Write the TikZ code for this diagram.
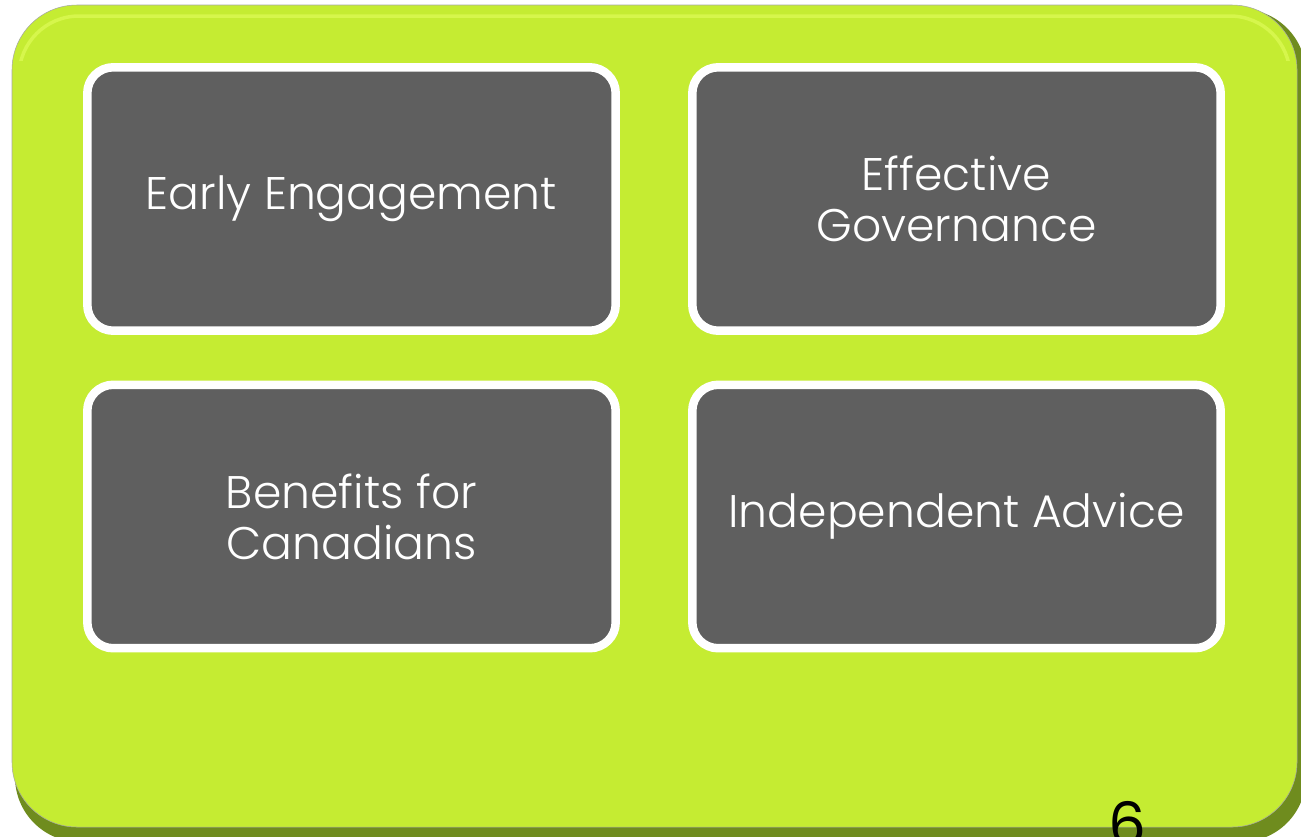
\documentclass[tikz,border=0pt]{standalone}
\usepackage{fontspec}
\setmainfont{Poppins}[UprightFont=* Light]
\newfontfamily\pagenumfont{Poppins}
\definecolor{panelgreen}{HTML}{C5EC32}
\definecolor{panelshade}{HTML}{6F8C1E}
\definecolor{panellight}{HTML}{D6F64C}
\definecolor{boxgray}{HTML}{5F5F5F}
\tikzset{
  pillar/.style={draw=white, fill=boxgray, line width=0.17cm, rounded corners=0.52cm,
    minimum width=10.57cm, minimum height=5.27cm, inner sep=0pt,
    text=white, align=center, font=\fontsize{26}{29}\selectfont},
}
\begin{document}
\begin{tikzpicture}[x=0.02cm, y=-0.02cm]
            \useasboundingbox (0,0) rectangle (1301,836);
            % Green panel with its shadow edge
            \fill[panelshade, rounded corners=1.3cm] (15,9) rectangle (1306,842);
            \fill[panelgreen, rounded corners=1.3cm, draw=gray!70, line width=0.3pt] (12,5) rectangle (1297,827);
            \begin{scope}
                \clip (0,0) rectangle (1301,60);
                \draw[panellight, line width=0.07cm, rounded corners=1.2cm] (19,16) rectangle (1290,700);
            \end{scope}

            % Four boxes
            \node[pillar] (early) at (351.5,199) {Early Engagement};
            \node[pillar] (gov) at (956.5,199) {Effective\\Governance};
            \node[pillar] (benefit) at (351.5,516.5) {Benefits for\\Canadians};
            \node[pillar] (advice) at (956.5,516.5) {Independent Advice};

            % page number
            \node[anchor=base, inner sep=0pt, font=\pagenumfont\fontsize{34}{34}\selectfont] (page) at (1127,845) {6};
\end{tikzpicture}
\end{document}
